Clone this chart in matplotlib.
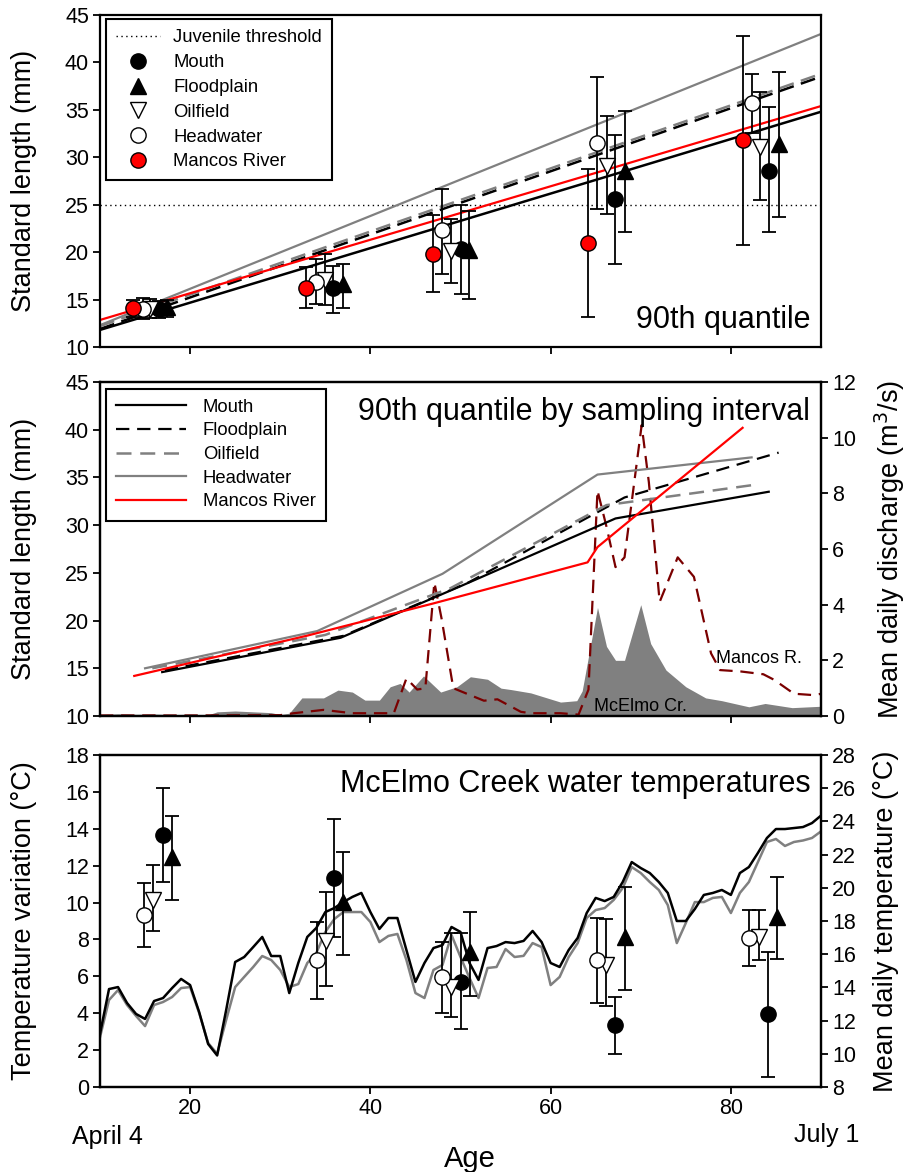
import matplotlib
matplotlib.use('Agg')
import matplotlib.pyplot as plt
from matplotlib.lines import Line2D
import numpy as np

plt.rcParams['font.family'] = ['Liberation Sans', 'DejaVu Sans']

# ---------------- Top panel: 90th quantile standard length ----------------
mancos_age = [13.7, 32.9, 47.0, 64.1, 81.3]
mancos_sl = [14.1, 16.2, 19.8, 21.0, 31.8]
mancos_lo = [13.2, 14.1, 15.8, 13.2, 20.8]
mancos_hi = [15.0, 18.4, 23.9, 28.8, 42.8]

head_age = [14.8, 34.0, 48.0, 65.2, 82.3]
head_sl = [14.0, 16.9, 22.3, 31.5, 35.7]
head_lo = [13.0, 14.5, 17.7, 24.5, 32.6]
head_hi = [15.2, 19.3, 26.7, 38.5, 38.8]

oil_age = [15.6, 35.0, 48.9, 66.2, 83.2]
oil_sl = [14.0, 17.1, 20.1, 29.1, 31.1]
oil_lo = [13.1, 14.4, 16.7, 24.0, 25.5]
oil_hi = [15.1, 19.8, 23.5, 34.4, 36.9]

mouth_age = [16.6, 35.9, 50.0, 67.1, 84.2]
mouth_sl = [14.0, 16.2, 20.3, 25.6, 28.6]
mouth_lo = [13.1, 13.6, 15.6, 18.8, 22.1]
mouth_hi = [14.9, 18.5, 25.0, 32.4, 35.3]

flood_age = [17.4, 37.0, 50.9, 68.2, 85.3]
flood_sl = [14.2, 16.6, 20.2, 28.6, 31.4]
flood_lo = [13.2, 14.1, 15.1, 22.1, 23.7]
flood_hi = [15.0, 18.8, 24.3, 34.9, 39.0]

# regression line end points (age 10 and 90)
reg_age = [10, 90]
reg_mouth = [11.8, 34.8]
reg_flood = [11.9, 38.5]
reg_oil = [12.2, 38.8]
reg_head = [12.3, 43.0]
reg_mancos = [12.85, 35.4]
juvenile_threshold = 25

# ---------------- Middle panel: by sampling interval ----------------
int_mouth_age = [16.9, 36.7, 50.0, 67.2, 84.2]
int_mouth_sl = [14.6, 18.2, 23.6, 30.7, 33.5]
int_flood_age = [17.2, 37.0, 50.9, 68.2, 85.3]
int_flood_sl = [14.8, 18.4, 24.0, 32.9, 37.6]
int_oil_age = [15.8, 35.0, 48.9, 66.2, 83.2]
int_oil_sl = [15.0, 18.5, 23.4, 32.1, 34.3]
int_head_age = [15.0, 34.1, 48.0, 65.2, 82.3]
int_head_sl = [15.0, 18.9, 24.9, 35.3, 37.1]
int_mancos_age = [13.8, 32.9, 47.0, 64.1, 65.2, 81.3]
int_mancos_sl = [14.2, 18.4, 21.8, 26.1, 27.7, 40.2]

mcelmo_day = [10, 12, 14, 16, 18, 20, 22, 23, 25, 27, 29, 30, 31, 32.4, 34.8, 36.4, 38,
              39.4, 41, 42.2, 43.3, 44.3, 45.9, 47.8, 49.6, 51.1, 53, 54.5, 55.6, 57.8,
              61.1, 62.9, 63.5, 65.2, 66.2, 67.2, 68.2, 70.0, 71.1, 72.8, 75, 77.2, 79,
              82, 83.8, 86.8, 90]
mcelmo_q = [0.05, 0.08, 0.06, 0.07, 0.05, 0.06, 0.04, 0.15, 0.18, 0.15, 0.12, 0.05, 0.1,
            0.65, 0.65, 0.93, 0.86, 0.57, 0.57, 1.05, 1.17, 0.86, 1.44, 0.86, 1.05, 1.41,
            1.32, 1.0, 0.95, 0.83, 0.5, 0.55, 0.9, 3.9, 2.5, 2.0, 2.0, 4.0, 2.6, 1.65,
            1.05, 0.65, 0.55, 0.33, 0.45, 0.3, 0.35]

mancos_day = [10, 20, 30, 31.5, 34.8, 38, 42.6, 44, 45.2, 46.1, 47.1, 47.9, 49.2, 50.7,
              52.6, 54.1, 56.7, 57.8, 61.1, 63.1, 64.2, 65.2, 66.2, 67.2, 68.2, 70.1,
              70.9, 72.1, 74.1, 75.9, 77.8, 78.8, 81.1, 83.6, 84.8, 87, 89.2, 90.9]
mancos_q = [0.02, 0.02, 0.03, 0.1, 0.22, 0.1, 0.1, 1.35, 0.95, 1.0, 4.8, 3.5, 1.0, 0.8,
            0.55, 0.6, 0.15, 0.1, 0.1, 0.05, 0.95, 8.1, 6.8, 5.35, 5.7, 10.45, 8.4, 4.1,
            5.7, 5.0, 2.25, 1.65, 1.6, 1.5, 1.3, 0.8, 0.75, 0.85]

# ---------------- Bottom panel: temperatures ----------------
tv_head_age = [14.9, 34.1, 48.0, 65.1, 82.0]
tv_head = [9.33, 6.89, 5.97, 6.89, 8.08]
tv_head_lo = [7.59, 4.77, 4.01, 4.56, 6.56]
tv_head_hi = [11.06, 8.95, 7.86, 9.16, 9.6]

tv_oil_age = [15.9, 35.1, 49.0, 66.1, 83.1]
tv_oil = [10.16, 7.92, 5.42, 6.62, 8.13]
tv_oil_lo = [8.46, 5.48, 3.8, 4.39, 6.89]
tv_oil_hi = [12.04, 10.57, 8.35, 9.11, 9.6]

tv_mouth_age = [17.0, 36.0, 50.0, 67.1, 84.1]
tv_mouth = [13.67, 11.33, 5.69, 3.36, 3.96]
tv_mouth_lo = [11.1, 8.13, 3.15, 1.79, 0.54]
tv_mouth_hi = [16.2, 14.53, 8.35, 4.88, 7.32]

tv_flood_age = [18.0, 37.0, 51.0, 68.2, 85.1]
tv_flood = [12.47, 10.03, 7.32, 8.13, 9.22]
tv_flood_lo = [10.14, 7.16, 4.93, 5.26, 6.94]
tv_flood_hi = [14.7, 12.74, 9.49, 10.85, 11.39]

temp_day = list(range(10, 91))
temp_black = [11.2, 13.90, 14.02, 13.06, 12.40, 12.10, 13.18, 13.36, 13.96, 14.51,
              14.14, 12.52, 10.59, 9.9, 12.64, 15.53, 15.83, 16.43, 17.04, 15.89,
              15.89, 13.66, 15.47, 17.04, 17.58, 18.54, 18.78, 19.14, 19.45, 19.69,
              18.54, 17.52, 18.18, 18.18, 16.25, 14.33, 15.47, 16.37, 16.55, 17.64,
              17.34, 15.47, 14.45, 16.37, 16.49, 16.73, 16.67, 16.80, 17.40, 16.73,
              15.47, 15.23, 16.25, 16.98, 18.48, 19.39, 19.20, 19.45, 20.35, 21.55,
              21.19, 20.89, 20.35, 19.69, 18.0, 18.0, 18.72, 19.57, 19.69, 19.87,
              19.57, 20.89, 21.25, 22.10, 23.0, 23.54, 23.54, 23.6, 23.66, 23.9, 24.35]
temp_gray = [11.0, 13.24, 13.84, 12.94, 12.28, 11.67, 12.94, 13.12, 13.42, 13.96,
             14.02, 12.46, 10.65, 10.0, 12.04, 14.02, 14.63, 15.23, 15.89, 15.65,
             15.05, 14.02, 14.20, 15.47, 16.07, 17.34, 18.12, 18.54, 18.54, 18.54,
             17.94, 16.73, 17.10, 17.22, 15.65, 13.66, 13.36, 15.05, 15.35, 17.16,
             15.83, 14.57, 13.36, 15.17, 15.23, 16.31, 15.83, 15.9, 16.67, 16.43,
             14.14, 14.63, 15.83, 16.67, 18.18, 18.66, 18.78, 19.27, 19.99, 21.25,
             20.89, 20.35, 19.87, 18.96, 16.67, 17.88, 19.14, 19.14, 19.39, 19.45,
             18.48, 19.69, 20.35, 21.55, 22.76, 22.94, 22.52, 22.76, 22.85, 23.0, 23.4]

# ---------------- styling ----------------
RED = '#ff0000'
GRAY = '#808080'
DKRED = '#7a0000'
LBL = 19.5
TICK = 15.5
TITLE = 22
LEG = 13.3
MS = 11

fig = plt.figure(figsize=(9.09, 11.72), dpi=100)
L, W = 100 / 909, 721 / 909
ax1 = fig.add_axes([L, 1 - 347 / 1172, W, 332 / 1172])
ax2 = fig.add_axes([L, 1 - 716 / 1172, W, 334 / 1172])
ax3 = fig.add_axes([L, 1 - 1087 / 1172, W, 332 / 1172])


def style(ax):
    for s in ax.spines.values():
        s.set_linewidth(1.6)
    ax.tick_params(direction='out', length=5, width=1.3, labelsize=TICK, pad=3)


# ---- top ----
style(ax1)
ax1.plot(reg_age, reg_mouth, color='black', lw=1.8, zorder=2)
ax1.plot(reg_age, reg_flood, color='black', lw=1.8, dashes=(6, 3), zorder=2)
ax1.plot(reg_age, reg_oil, color=GRAY, lw=1.8, dashes=(6, 3), zorder=2)
ax1.plot(reg_age, reg_head, color=GRAY, lw=1.6, zorder=2)
ax1.plot(reg_age, reg_mancos, color=RED, lw=1.6, zorder=2)
ax1.axhline(juvenile_threshold, color='black', lw=1.0, ls=(0, (1, 2.5)), zorder=1)

groups_top = [
    (flood_age, flood_sl, flood_lo, flood_hi, '^', 'black'),
    (mouth_age, mouth_sl, mouth_lo, mouth_hi, 'o', 'black'),
    (oil_age, oil_sl, oil_lo, oil_hi, 'v', 'white'),
    (head_age, head_sl, head_lo, head_hi, 'o', 'white'),
    (mancos_age, mancos_sl, mancos_lo, mancos_hi, 'o', RED),
]
z = 3
for xa, ya, lo, hi, mk, fc in groups_top:
    ya_ = np.array(ya)
    yerr = [ya_ - np.array(lo), np.array(hi) - ya_]
    ax1.errorbar(xa, ya, yerr=yerr, fmt='none', ecolor='black', elinewidth=1.3,
                 capsize=4.7, capthick=1.3, zorder=z)
    ax1.plot(xa, ya, ls='none', marker=mk, ms=MS, mfc=fc, mec='black', mew=1.0, zorder=z + 0.5)
    z += 1

ax1.set_xlim(10, 90)
ax1.set_ylim(10, 45)
ax1.set_xticks([20, 40, 60, 80])
ax1.tick_params(labelbottom=False)
ax1.set_yticks(range(10, 46, 5))
ax1.set_ylabel('Standard length (mm)', fontsize=LBL)
ax1.yaxis.set_label_coords(-0.088, 0.5)
ax1.text(0.985, 0.057, '90th quantile', transform=ax1.transAxes, ha='right',
         va='baseline', fontsize=TITLE)

h_top = [
    Line2D([], [], color='black', lw=1.0, ls=(0, (1, 2.5))),
    Line2D([], [], ls='none', marker='o', ms=MS, mfc='black', mec='black'),
    Line2D([], [], ls='none', marker='^', ms=MS, mfc='black', mec='black'),
    Line2D([], [], ls='none', marker='v', ms=MS, mfc='white', mec='black'),
    Line2D([], [], ls='none', marker='o', ms=MS, mfc='white', mec='black'),
    Line2D([], [], ls='none', marker='o', ms=MS, mfc=RED, mec='black'),
]
lab_top = ['Juvenile threshold', 'Mouth', 'Floodplain', 'Oilfield', 'Headwater', 'Mancos River']
leg = ax1.legend(h_top, lab_top, loc='upper left', fontsize=LEG, frameon=True,
                 fancybox=False, edgecolor='black', framealpha=1, borderpad=0.55,
                 labelspacing=0.42, handlelength=2.4, handletextpad=0.7,
                 bbox_to_anchor=(0.008, 0.987), borderaxespad=0)
leg.get_frame().set_linewidth(1.5)
leg.set_zorder(20)

# ---- middle ----
style(ax2)
ax2b = ax2.twinx()
style(ax2b)
ax2b.fill_between(mcelmo_day, 0, mcelmo_q, color=GRAY, lw=0, zorder=1)
ax2b.plot(mancos_day, mancos_q, color=DKRED, lw=1.6, dashes=(6, 3.5), zorder=2)
ax2b.set_ylim(0, 12)
ax2b.set_yticks(range(0, 13, 2))
ax2b.set_ylabel('Mean daily discharge (m$^3$/s)', fontsize=LBL)
ax2b.yaxis.set_label_coords(1.072, 0.5)
ax2b.text(70.0, 0.18, 'McElmo Cr.', fontsize=13, ha='center', va='baseline', zorder=3)
ax2b.text(83.1, 1.9, 'Mancos R.', fontsize=13, ha='center', va='baseline', zorder=3)

ax2.set_zorder(ax2b.get_zorder() + 1)
ax2.patch.set_visible(False)
ax2.plot(int_mouth_age, int_mouth_sl, color='black', lw=1.6, label='Mouth')
ax2.plot(int_flood_age, int_flood_sl, color='black', lw=1.6, dashes=(6, 3.5), label='Floodplain')
ax2.plot(int_oil_age, int_oil_sl, color=GRAY, lw=1.8, dashes=(6, 3.5), label='Oilfield')
ax2.plot(int_head_age, int_head_sl, color=GRAY, lw=1.6, label='Headwater')
ax2.plot(int_mancos_age, int_mancos_sl, color=RED, lw=1.6, label='Mancos River')
ax2.set_xlim(10, 90)
ax2.set_ylim(10, 45)
ax2.set_xticks([20, 40, 60, 80])
ax2.tick_params(labelbottom=False)
ax2.set_yticks(range(10, 46, 5))
ax2.set_ylabel('Standard length (mm)', fontsize=LBL)
ax2.yaxis.set_label_coords(-0.088, 0.5)
ax2.text(0.985, 0.886, '90th quantile by sampling interval', transform=ax2.transAxes,
         ha='right', va='baseline', fontsize=TITLE)
leg2 = ax2.legend(loc='upper left', fontsize=LEG, frameon=True, fancybox=False,
                  edgecolor='black', framealpha=1, borderpad=0.55, labelspacing=0.36,
                  handlelength=3.8, handletextpad=0.9,
                  bbox_to_anchor=(0.008, 0.98), borderaxespad=0)
leg2.get_frame().set_linewidth(1.5)

# ---- bottom ----
style(ax3)
ax3b = ax3.twinx()
style(ax3b)
ax3b.plot(temp_day, temp_gray, color=GRAY, lw=1.8)
ax3b.plot(temp_day, temp_black, color='black', lw=1.8)
ax3b.set_ylim(8, 28)
ax3b.set_yticks(range(8, 29, 2))
ax3b.set_ylabel('Mean daily temperature (°C)', fontsize=LBL)
ax3b.yaxis.set_label_coords(1.072, 0.5)

ax3.set_zorder(ax3b.get_zorder() + 1)
ax3.patch.set_visible(False)
groups_bot = [
    (tv_flood_age, tv_flood, tv_flood_lo, tv_flood_hi, '^', 'black'),
    (tv_mouth_age, tv_mouth, tv_mouth_lo, tv_mouth_hi, 'o', 'black'),
    (tv_oil_age, tv_oil, tv_oil_lo, tv_oil_hi, 'v', 'white'),
    (tv_head_age, tv_head, tv_head_lo, tv_head_hi, 'o', 'white'),
]
z = 3
for xa, ya, lo, hi, mk, fc in groups_bot:
    ya_ = np.array(ya)
    yerr = [ya_ - np.array(lo), np.array(hi) - ya_]
    ax3.errorbar(xa, ya, yerr=yerr, fmt='none', ecolor='black', elinewidth=1.3,
                 capsize=4.7, capthick=1.3, zorder=z)
    ax3.plot(xa, ya, ls='none', marker=mk, ms=MS, mfc=fc, mec='black', mew=1.0, zorder=z + 0.5)
    z += 1
ax3.set_xlim(10, 90)
ax3.set_ylim(0, 18)
ax3.set_xticks([20, 40, 60, 80])
ax3.set_yticks(range(0, 19, 2))
ax3.set_ylabel('Temperature variation (°C)', fontsize=LBL)
ax3.yaxis.set_label_coords(-0.088, 0.5)
ax3.set_xlabel('Age', fontsize=21)
ax3.xaxis.set_label_coords(0.513, -0.175)
ax3.text(0.985, 0.889, 'McElmo Creek water temperatures', transform=ax3.transAxes,
         ha='right', va='baseline', fontsize=TITLE)

fig.text(107 / 909, 1 - 1137 / 1172, 'April 4', ha='center', va='center', fontsize=18)
fig.text(827 / 909, 1 - 1135 / 1172, 'July 1', ha='center', va='center', fontsize=18)

fig.savefig('out.png', dpi=100)
